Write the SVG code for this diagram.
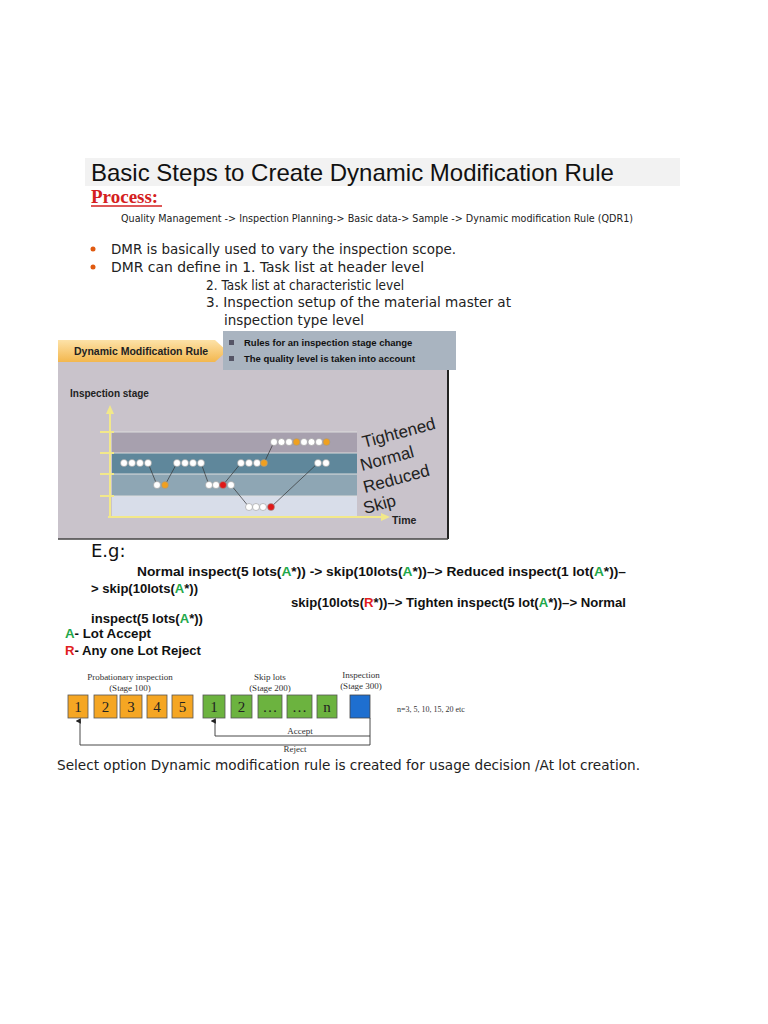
<svg xmlns="http://www.w3.org/2000/svg" width="768" height="1024" viewBox="0 0 768 1024">
<style>
.t{font-family:"DejaVu Sans",sans-serif;font-size:14px;fill:#222}
.b{font-family:"Liberation Sans",Arial,sans-serif;font-weight:bold;font-size:12.5px;fill:#111}
.g{fill:#1fa84a}.r{fill:#e02020}
.s{font-family:"Liberation Serif",serif;font-size:9px;fill:#333;text-anchor:middle}
.bx{font-family:"Liberation Serif",serif;font-size:15px;fill:#222;text-anchor:middle}
.w{fill:#fff;stroke:#999;stroke-width:0.6}
.o{fill:#f0a020;stroke:#999;stroke-width:0.6}
.rd{fill:#e01818;stroke:#999;stroke-width:0.6}
.ob{fill:#f5a623;stroke:#555;stroke-width:0.8}
.gb{fill:#6cb33f;stroke:#555;stroke-width:0.8}
.lab{font-family:"Liberation Sans",Arial,sans-serif;font-size:17px;fill:#222}
</style>
<defs>
<linearGradient id="og" x1="0" y1="0" x2="0" y2="1"><stop offset="0" stop-color="#fde2a8"/><stop offset="1" stop-color="#f3b74e"/></linearGradient>
<marker id="ah" markerWidth="6" markerHeight="6" refX="3" refY="5" orient="auto-start-reverse"><path d="M0,6 L3,0 L6,6 Z" fill="#222"/></marker>
</defs>
<rect width="768" height="1024" fill="#fff"/>
<g id="title">
<rect x="85" y="158" width="595" height="28" fill="#f2f2f2"/>
<text x="91" y="181" font-family="Liberation Sans,Arial,sans-serif" font-size="24" fill="#111">Basic Steps to Create Dynamic Modification Rule</text>
<text x="91" y="203" font-family="Liberation Serif,serif" font-weight="bold" font-size="19" fill="#d42020">Process:</text>
<line x1="91" y1="206" x2="162" y2="206" stroke="#d42020" stroke-width="1.5"/>
<text x="121" y="222" font-family="DejaVu Sans,sans-serif" font-size="10.5" fill="#222" textLength="512" lengthAdjust="spacingAndGlyphs">Quality Management -&gt; Inspection Planning-&gt; Basic data-&gt; Sample -&gt; Dynamic modification Rule (QDR1)</text>
</g>
<g id="bullets">
<circle cx="93" cy="249" r="2.5" fill="#e05a10"/>
<circle cx="93" cy="267" r="2.5" fill="#e05a10"/>
<text class="t" x="111" y="254" textLength="345" lengthAdjust="spacingAndGlyphs">DMR is basically used to vary the inspection scope.</text>
<text class="t" x="111" y="272" textLength="313" lengthAdjust="spacingAndGlyphs">DMR can define in  1. Task list at header level</text>
<text class="t" x="206" y="290" textLength="198" lengthAdjust="spacingAndGlyphs">2. Task list at characteristic level</text>
<text class="t" x="206" y="307" textLength="305" lengthAdjust="spacingAndGlyphs">3. Inspection setup of the material master at</text>
<text class="t" x="224" y="325" textLength="140" lengthAdjust="spacingAndGlyphs">inspection type level</text>
</g>
<g id="chart">
<rect x="58" y="350" width="391" height="189" fill="#c9c3cb"/>
<line x1="448" y1="362" x2="448" y2="539" stroke="#222" stroke-width="2"/>
<line x1="58" y1="539" x2="448" y2="539" stroke="#444" stroke-width="1.5"/>
<polygon points="58,340 215,340 227,351 215,362 58,362" fill="url(#og)"/>
<text x="74" y="355" font-family="Liberation Sans,Arial,sans-serif" font-weight="bold" font-size="10.5" fill="#222">Dynamic Modification Rule</text>
<rect x="223" y="331" width="233" height="39" fill="#a9b4c0"/>
<rect x="229" y="340" width="5" height="5" fill="#556"/>
<rect x="229" y="356" width="5" height="5" fill="#556"/>
<text x="244" y="346" font-family="Liberation Sans,Arial,sans-serif" font-weight="bold" font-size="9.5" fill="#111">Rules for an inspection stage change</text>
<text x="244" y="362" font-family="Liberation Sans,Arial,sans-serif" font-weight="bold" font-size="9.5" fill="#111">The quality level is taken into account</text>
<text x="70" y="397" font-family="Liberation Sans,Arial,sans-serif" font-weight="bold" font-size="10" fill="#222">Inspection stage</text>
<rect x="112" y="432" width="245" height="21" fill="#a7a0ae"/>
<rect x="112" y="453" width="245" height="21" fill="#5f879b"/>
<rect x="112" y="474" width="245" height="22" fill="#8ea6b4"/>
<rect x="112" y="496" width="245" height="20" fill="#d8dde9"/>
<g stroke="#ddd" stroke-width="1"><line x1="112" y1="432" x2="357" y2="432"/><line x1="112" y1="453" x2="357" y2="453"/><line x1="112" y1="474" x2="357" y2="474"/><line x1="112" y1="496" x2="357" y2="496"/></g>
<g stroke="#f2e88a" stroke-width="2">
<line x1="110" y1="518" x2="110" y2="412"/>
<line x1="108" y1="517" x2="384" y2="517"/>
<line x1="100" y1="432" x2="114" y2="432"/><line x1="100" y1="453" x2="114" y2="453"/><line x1="100" y1="474" x2="114" y2="474"/><line x1="100" y1="496" x2="114" y2="496"/>
</g>
<polygon points="110,405 106,414 114,414" fill="#f2e88a"/>
<polygon points="390,517 381,513 381,521" fill="#f2e88a"/>
<text x="392" y="524" font-family="Liberation Sans,Arial,sans-serif" font-weight="bold" font-size="10.5" fill="#222">Time</text>
<g stroke="#333" stroke-width="0.7">
<line x1="148" y1="463" x2="157" y2="485"/><line x1="165" y1="485" x2="177" y2="463"/>
<line x1="201" y1="463" x2="209" y2="485"/><line x1="223" y1="485" x2="241" y2="463"/>
<line x1="231" y1="485" x2="249" y2="507"/><line x1="264" y1="463" x2="274" y2="442"/>
<line x1="271" y1="507" x2="318" y2="463"/>
</g>
<g>
<circle class="w" cx="124" cy="463" r="3.5"/><circle class="w" cx="132" cy="463" r="3.5"/><circle class="w" cx="140" cy="463" r="3.5"/><circle class="w" cx="148" cy="463" r="3.5"/>
<circle class="w" cx="157" cy="485" r="3.5"/><circle class="o" cx="165" cy="485" r="3.5"/>
<circle class="w" cx="177" cy="463" r="3.5"/><circle class="w" cx="185" cy="463" r="3.5"/><circle class="w" cx="193" cy="463" r="3.5"/><circle class="w" cx="201" cy="463" r="3.5"/>
<circle class="w" cx="209" cy="485" r="3.5"/><circle class="w" cx="216" cy="485" r="3.5"/><circle class="rd" cx="223" cy="485" r="3.5"/><circle class="w" cx="231" cy="485" r="3.5"/>
<circle class="w" cx="249" cy="507" r="3.5"/><circle class="w" cx="256" cy="507" r="3.5"/><circle class="w" cx="263" cy="507" r="3.5"/><circle class="rd" cx="271" cy="507" r="3.5"/>
<circle class="w" cx="241" cy="463" r="3.5"/><circle class="w" cx="249" cy="463" r="3.5"/><circle class="w" cx="257" cy="463" r="3.5"/><circle class="o" cx="264" cy="463" r="3.5"/>
<circle class="w" cx="274" cy="442" r="3.5"/><circle class="w" cx="281.5" cy="442" r="3.5"/><circle class="w" cx="289" cy="442" r="3.5"/><circle class="o" cx="296.5" cy="442" r="3.5"/><circle class="w" cx="304" cy="442" r="3.5"/><circle class="w" cx="311.5" cy="442" r="3.5"/><circle class="w" cx="319" cy="442" r="3.5"/><circle class="o" cx="326.5" cy="442" r="3.5"/>
<circle class="w" cx="318" cy="463" r="3.5"/><circle class="w" cx="326" cy="463" r="3.5"/>
</g>
<text class="lab" x="364" y="448" transform="rotate(-15 364 448)">Tightened</text>
<text class="lab" x="362" y="471" transform="rotate(-15 362 471)">Normal</text>
<text class="lab" x="365" y="493" transform="rotate(-15 365 493)">Reduced</text>
<text class="lab" x="365" y="514" transform="rotate(-15 365 514)">Skip</text>
</g>
<g id="example">
<text x="91" y="557" font-family="DejaVu Sans,sans-serif" font-size="18" fill="#111">E.g:</text>
<text class="b" x="137" y="576" textLength="489" lengthAdjust="spacingAndGlyphs">Normal inspect(5 lots(<tspan class="g">A</tspan>*)) -&gt; skip(10lots(<tspan class="g">A</tspan>*))–&gt; Reduced inspect(1 lot(<tspan class="g">A</tspan>*))–</text>
<text class="b" x="91" y="593" textLength="107" lengthAdjust="spacingAndGlyphs">&gt; skip(10lots(<tspan class="g">A</tspan>*))</text>
<text class="b" x="291" y="607" textLength="335" lengthAdjust="spacingAndGlyphs">skip(10lots(<tspan class="r">R</tspan>*))–&gt; Tighten inspect(5 lot(<tspan class="g">A</tspan>*))–&gt; Normal</text>
<text class="b" x="91" y="623" textLength="112" lengthAdjust="spacingAndGlyphs">inspect(5 lots(<tspan class="g">A</tspan>*))</text>
<text class="b" x="65" y="638" textLength="86" lengthAdjust="spacingAndGlyphs"><tspan class="g">A</tspan>- Lot Accept</text>
<text class="b" x="65" y="655" textLength="136" lengthAdjust="spacingAndGlyphs"><tspan class="r">R</tspan>- Any one Lot Reject</text>
</g>
<g id="lots">
<text class="s" x="130" y="680">Probationary inspection</text>
<text class="s" x="130" y="691">(Stage 100)</text>
<text class="s" x="270" y="680">Skip lots</text>
<text class="s" x="270" y="691">(Stage 200)</text>
<text class="s" x="361" y="678">Inspection</text>
<text class="s" x="361" y="689">(Stage 300)</text>
<rect class="ob" x="68" y="695" width="20" height="23"/><text class="bx" x="78" y="712">1</text>
<rect class="ob" x="94" y="695" width="23" height="23"/><text class="bx" x="105.5" y="712">2</text>
<rect class="ob" x="120" y="695" width="22" height="23"/><text class="bx" x="131" y="712">3</text>
<rect class="ob" x="147" y="695" width="20" height="23"/><text class="bx" x="157" y="712">4</text>
<rect class="ob" x="172" y="695" width="21" height="23"/><text class="bx" x="182.5" y="712">5</text>
<rect class="gb" x="203" y="695" width="22" height="23"/><text class="bx" x="214" y="712">1</text>
<rect class="gb" x="231" y="695" width="21" height="23"/><text class="bx" x="241.5" y="712">2</text>
<rect class="gb" x="258" y="695" width="24" height="23"/><text class="bx" x="270" y="712">…</text>
<rect class="gb" x="287" y="695" width="25" height="23"/><text class="bx" x="299.5" y="712">…</text>
<rect class="gb" x="317" y="695" width="20" height="23"/><text class="bx" x="327" y="712">n</text>
<rect x="350" y="695" width="20" height="23" fill="#1e6fd0" stroke="#444" stroke-width="0.8"/>
<text x="397" y="712" font-family="Liberation Serif,serif" font-size="8" fill="#333">n=3, 5, 10, 15, 20 etc</text>
</g>
<g id="connectors" fill="none" stroke="#333" stroke-width="0.9">
<polyline points="370,718 370,745 80,745 80,721" marker-end="url(#ah)"/>
<polyline points="370,736 215,736 215,721" marker-end="url(#ah)"/>
<text x="300" y="734" font-family="Liberation Serif,serif" font-size="9" fill="#333" stroke="none" text-anchor="middle">Accept</text>
<text x="295" y="752" font-family="Liberation Serif,serif" font-size="9" fill="#333" stroke="none" text-anchor="middle">Reject</text>
</g>
<text x="57" y="770" font-family="DejaVu Sans,sans-serif" font-size="14" fill="#222" textLength="583" lengthAdjust="spacingAndGlyphs">Select option Dynamic modification rule is created for usage decision /At lot creation.</text>
</svg>
